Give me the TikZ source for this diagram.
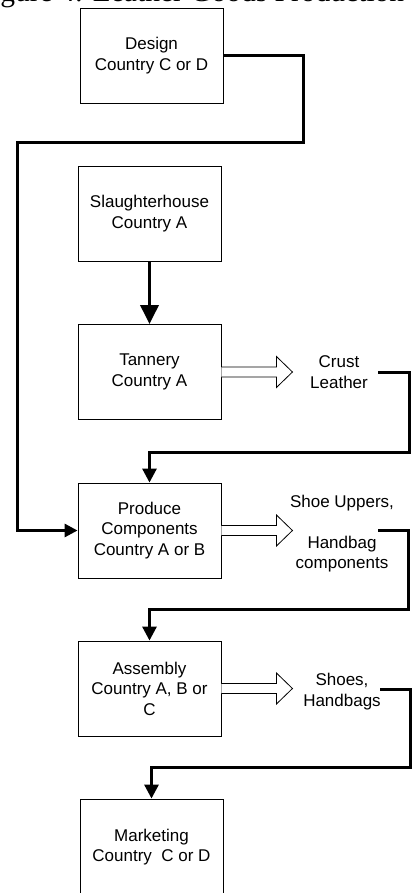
\documentclass[tikz,border=0pt]{standalone}
\usepackage{fontspec}
\setmainfont{Liberation Sans}
\newfontfamily\captfont{Liberation Serif}
\usetikzlibrary{arrows.meta,calc}
\tikzset{
  stepbox/.style={draw=black, line width=0.9pt, minimum width=143pt, minimum height=95pt,
    align=center, inner sep=0pt, font=\fontsize{17pt}{20.5pt}\selectfont},
  lbl/.style={align=center, inner sep=0pt, font=\fontsize{17pt}{20.5pt}\selectfont},
  conn/.style={draw=black, line width=3pt, line join=miter, -{Triangle[width=14pt,length=14pt]}},
  bigconn/.style={draw=black, line width=3.5pt, -{Triangle[width=18pt,length=19pt]}},
  hollow/.style={draw=black, line width=0.8pt, fill=white, line join=miter}
}
\newcommand{\blkarrow}[1]{%
  \draw[hollow] ($(#1.east)+(0,-5)$) -- ++(55,0) -- ++(0,-10.5) -- ++(16,15.5)
    -- ++(-16,15.5) -- ++(0,-10.5) -- ++(-55,0);}
\begin{document}
\begin{tikzpicture}[x=1pt,y=-1pt]
\useasboundingbox (0,0) rectangle (412,893);
\clip (0,0) rectangle (412,893);
\node[anchor=base west, inner sep=0pt, font=\captfont\fontsize{29.5pt}{33pt}\selectfont] (cap) at (-24.5,1.5) {Figure 4: Leather Goods Production};

\node[stepbox] (des) at (151.5,55.5) {Design\\Country C or D};
\node[stepbox] (sla) at (149.5,213.5) {Slaughterhouse\\Country A};
\node[stepbox] (tan) at (149.5,372) {Tannery\\Country A};
\node[stepbox] (prod) at (149.5,530.5) {Produce\\Components\\Country A or B};
\node[stepbox] (asm) at (149.5,688.5) {Assembly\\Country A, B or\\C};
\node[stepbox, minimum height=96pt] (mkt) at (151.5,847) {Marketing\\Country\ \ C or D};

\node[lbl] (crust) at (339,372) {Crust\\Leather};
\node[lbl] (upp) at (342,533.5) {Shoe Uppers,\\\mbox{}\\Handbag\\components};
\node[lbl] (shoes) at (342,691.5) {Shoes,\\Handbags};

\coordinate (o1) at (378,372);
\coordinate (o2) at (378,530);
\coordinate (o3) at (380,689);

\blkarrow{tan}
\blkarrow{prod}
\blkarrow{asm}

\draw[conn, -{Triangle[width=13pt,length=13pt]}] (des.east) -| (303,143) -| (17,530.5) -- (prod.west);
\draw[bigconn] (sla.south) -- (tan.north);
\draw[conn] (o1) -| (409,452) -| (prod.north);
\draw[conn] (o2) -| (408,609) -| (asm.north);
\draw[conn] (o3) -| (410.5,767) -| (mkt.north);
\end{tikzpicture}
\end{document}
